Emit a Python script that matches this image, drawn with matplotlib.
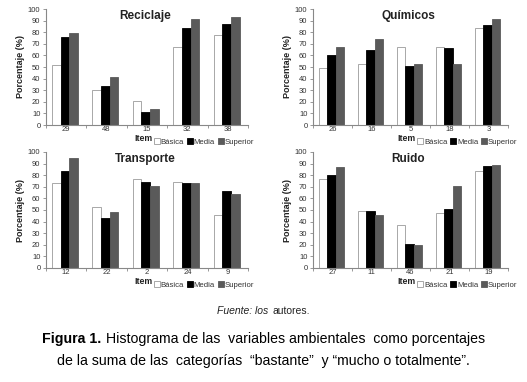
import numpy as np
import matplotlib.pyplot as plt
from matplotlib.offsetbox import TextArea, HPacker, AnchoredOffsetbox

plt.rcParams['font.family'] = ['Liberation Sans', 'DejaVu Sans']

# ================= Data =================
series = ['Básica', 'Media', 'Superior']

titles = ['Reciclaje', 'Químicos', 'Transporte', 'Ruido']
items = [
    ['29', '48', '15', '32', '38'],
    ['26', '16', '5', '18', '3'],
    ['12', '22', '2', '24', '9'],
    ['27', '11', '46', '21', '19'],
]
basica = [
    [52, 30, 21, 67, 78],
    [49, 53, 67, 67, 84],
    [73, 53, 77, 74, 46],
    [77, 49, 37, 47, 84],
]
media = [
    [76, 34, 11, 84, 87],
    [60, 65, 51, 66, 86],
    [84, 43, 74, 73, 66],
    [80, 49, 21, 51, 88],
]
superior = [
    [79, 41, 14, 91, 93],
    [67, 74, 53, 53, 91],
    [95, 48, 71, 73, 64],
    [87, 46, 20, 71, 89],
]

# ================= Layout (pixel boxes of each panel) =================
W, H = 527, 382
fig = plt.figure(figsize=(W / 100, H / 100), dpi=100)
fig.patch.set_facecolor('white')

# left, right, y of 100, y of 0  (pixels, top-origin)
boxes = [
    (46, 248, 9, 125),
    (313, 508, 9, 125),
    (46, 248, 152, 268),
    (313, 508, 152, 268),
]

fills = ['white', 'black', '#5a5a5a']
edges = ['#9a9a9a', 'black', '#5a5a5a']
bw = 0.215

for k, (l, r, t, b) in enumerate(boxes):
    ax = fig.add_axes([l / W, 1 - b / H, (r - l) / W, (b - t) / H])
    x = np.arange(len(items[k]))
    vals = [basica[k], media[k], superior[k]]
    for s in range(3):
        ax.bar(x + (s - 1) * bw - 0.03, vals[s], width=bw, color=fills[s],
               edgecolor=edges[s], linewidth=0.6, label=series[s])

    ax.set_xlim(-0.5, len(x) - 0.5)
    ax.set_ylim(0, 100)
    ax.set_yticks(np.arange(0, 101, 10))
    ax.set_xticks(x)
    ax.set_xticklabels(items[k])
    ax.set_xticks(np.arange(-0.5, len(x), 1), minor=True)
    ax.tick_params(axis='x', which='major', length=0, labelsize=5.5, pad=1, colors='#333333')
    ax.tick_params(axis='x', which='minor', length=2.5, width=0.6, color='#888888')
    ax.tick_params(axis='y', length=2.5, width=0.6, labelsize=5.5, pad=1.5,
                   color='#888888', labelcolor='#333333')
    for side in ['top', 'right']:
        ax.spines[side].set_visible(False)
    for side in ['left', 'bottom']:
        ax.spines[side].set_color('#888888')
        ax.spines[side].set_linewidth(0.8)

    ax.set_ylabel('Porcentaje (%)', fontsize=6.5, fontweight='bold', labelpad=2, color='#222222')
    ax.text(0.49, 0.94, titles[k], transform=ax.transAxes, ha='center', va='center',
            fontsize=8.5, fontweight='bold', color='#222222')
    ax.text(0.48, -0.115, 'Item', transform=ax.transAxes, ha='center', va='center',
            fontsize=6.3, fontweight='bold', color='#222222')
    ax.legend(loc='center left', bbox_to_anchor=(0.535, -0.145), ncol=3, frameon=False,
              fontsize=5.6, handlelength=0.7, handleheight=0.7, handletextpad=0.15,
              columnspacing=0.4, borderpad=0, borderaxespad=0, labelcolor='#333333')

# ================= Captions =================
src = HPacker(children=[TextArea('Fuente: los', textprops=dict(style='italic', fontsize=7.5, color='#222222')),
                        TextArea('autores.', textprops=dict(fontsize=7.5, color='#222222'))],
              sep=2.5, pad=0, align='baseline')
fig.add_artist(AnchoredOffsetbox(loc='center', child=src, frameon=False, pad=0, borderpad=0,
                                 bbox_to_anchor=(0.5, 1 - 311 / H), bbox_transform=fig.transFigure))

cap = HPacker(children=[TextArea('Figura 1.', textprops=dict(fontweight='bold', fontsize=10.2, color='black')),
                        TextArea('Histograma de las  variables ambientales  como porcentajes',
                                 textprops=dict(fontsize=10.2, color='black'))],
              sep=3, pad=0, align='baseline')
fig.add_artist(AnchoredOffsetbox(loc='center', child=cap, frameon=False, pad=0, borderpad=0,
                                 bbox_to_anchor=(0.5, 1 - 339 / H), bbox_transform=fig.transFigure))
fig.text(0.5, 1 - 361 / H, 'de la suma de las  categorías  \u201cbastante\u201d  y \u201cmucho o totalmente\u201d.',
         ha='center', va='center', fontsize=10.2, color='black')

plt.savefig('out.png', dpi=100)
plt.close()
